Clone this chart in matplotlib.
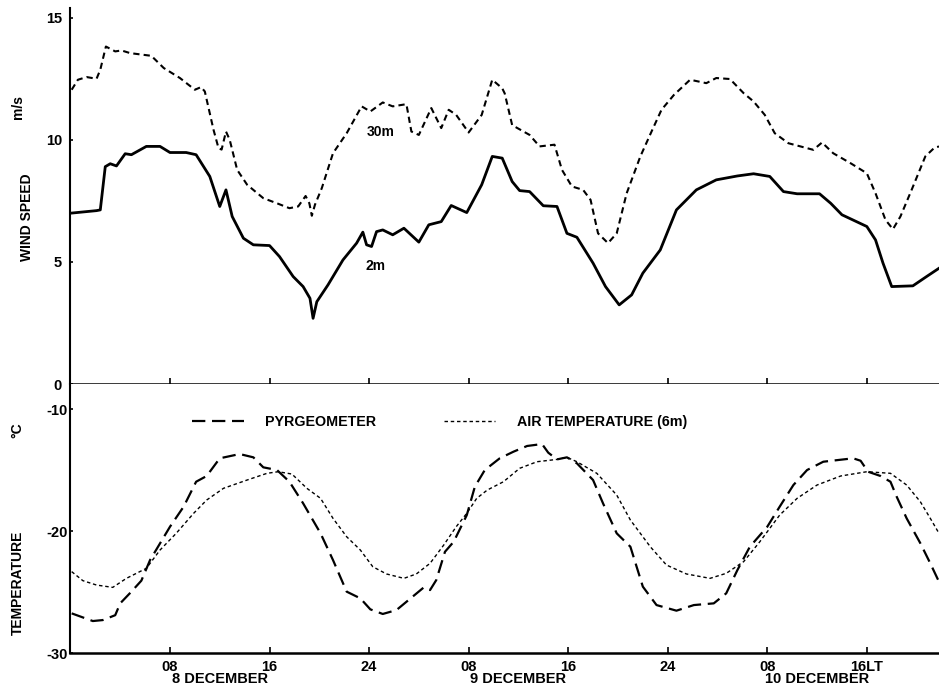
import matplotlib
matplotlib.use("Agg")
import matplotlib.pyplot as plt

plt.rcParams['font.family'] = ['Liberation Sans', 'DejaVu Sans']
plt.rcParams['font.weight'] = 'bold'
plt.rcParams['axes.unicode_minus'] = False

# hours since 8 December 00 LT, wind speed in m/s
hour_30m = [0.1, 0.6, 1.3, 2.1, 2.4, 2.85, 3.6, 4.1, 4.8, 6.5, 7.5, 8.8, 10.0, 10.5, 10.8,
            11.5, 11.9, 12.15, 12.5, 12.8, 13.4, 14.2, 15.5, 16.6, 17.6, 18.3, 18.9, 19.2,
            19.4, 19.65, 20.2, 21.1, 22.2, 23.4, 24.1, 25.1, 25.9, 27.0, 27.4, 28.0, 29.0,
            29.8, 30.4, 31.0, 32.0, 33.05, 33.9, 34.7, 34.9, 35.5, 36.9, 37.7, 38.9, 39.5,
            40.3, 41.2, 41.8, 42.4, 43.2, 43.9, 44.7, 45.8, 46.7, 47.5, 48.5, 49.8, 51.1,
            51.9, 53.0, 54.1, 54.9, 55.8, 56.6, 57.7, 59.7, 60.4, 61.3, 62.7, 64.0, 64.7,
            65.5, 66.1, 66.7, 67.6, 68.7, 69.4, 69.8]
wind_30m = [12.05, 12.46, 12.57, 12.5, 12.87, 13.82, 13.62, 13.66, 13.55, 13.44, 12.94, 12.53,
            12.05, 12.16, 11.98, 10.41, 9.66, 9.6, 10.34, 10.0, 8.77, 8.16, 7.61, 7.4, 7.2,
            7.27, 7.7, 7.4, 6.89, 7.34, 8.02, 9.45, 10.27, 11.37, 11.16, 11.53, 11.37, 11.46,
            10.34, 10.2, 11.3, 10.48, 11.23, 11.02, 10.3, 11.02, 12.46, 12.11, 11.9, 10.6,
            10.2, 9.73, 9.8, 8.77, 8.09, 7.95, 7.54, 6.17, 5.77, 6.17, 7.81, 9.32, 10.34,
            11.23, 11.84, 12.46, 12.32, 12.53, 12.49, 11.91, 11.57, 11.02, 10.27, 9.86, 9.59,
            9.89, 9.45, 9.04, 8.63, 7.81, 6.72, 6.34, 6.86, 7.95, 9.32, 9.66, 9.73]

hour_2m = [0.1, 2.1, 2.4, 2.8, 3.2, 3.7, 4.4, 4.9, 6.1, 7.2, 8.0, 9.3, 10.1, 11.2, 12.0, 12.5,
           13.0, 13.9, 14.7, 16.0, 16.8, 17.9, 18.7, 19.25, 19.5, 19.8, 20.7, 21.9, 23.0, 23.5,
           23.8, 24.2, 24.6, 25.1, 25.9, 26.8, 28.0, 28.8, 29.8, 30.6, 31.85, 33.05, 33.9,
           34.7, 35.5, 36.1, 36.9, 38.0, 39.1, 39.9, 40.7, 42.0, 43.0, 44.1, 45.1, 46.0, 47.4,
           48.7, 50.3, 51.9, 53.6, 54.9, 56.2, 57.3, 58.4, 60.2, 61.1, 62.0, 64.0, 64.7, 65.3,
           66.0, 67.7, 68.8, 69.8]
wind_2m = [7.0, 7.1, 7.13, 8.9, 9.02, 8.93, 9.43, 9.39, 9.73, 9.73, 9.48, 9.48, 9.39, 8.5,
           7.27, 7.95, 6.86, 5.97, 5.7, 5.67, 5.22, 4.4, 3.99, 3.51, 2.69, 3.37, 4.06, 5.08,
           5.77, 6.22, 5.7, 5.63, 6.24, 6.31, 6.11, 6.38, 5.81, 6.52, 6.65, 7.31, 7.02, 8.16,
           9.32, 9.25, 8.29, 7.92, 7.88, 7.3, 7.27, 6.17, 6.01, 4.95, 3.99, 3.24, 3.65, 4.54,
           5.49, 7.13, 7.95, 8.36, 8.52, 8.61, 8.5, 7.88, 7.79, 7.79, 7.4, 6.93, 6.45, 5.9,
           4.95, 3.99, 4.02, 4.4, 4.74]

# temperature, deg C
hour_pyr = [0.1, 1.8, 2.6, 3.6, 4.0, 4.9, 5.7, 6.4, 8.0, 9.1, 10.1, 10.95, 12.0, 13.6, 14.7,
            15.5, 16.6, 17.6, 18.7, 20.1, 21.1, 22.2, 23.3, 24.1, 25.1, 26.2, 28.4, 28.9, 29.4,
            30.1, 30.8, 31.85, 32.5, 33.3, 34.5, 35.6, 36.7, 37.9, 38.4, 39.1, 39.9, 40.7,
            42.0, 42.8, 43.9, 45.0, 46.0, 47.1, 48.7, 50.1, 51.7, 52.7, 53.6, 54.6, 56.0,
            57.0, 58.1, 59.2, 60.5, 62.9, 63.5, 64.1, 65.1, 65.9, 66.4, 67.2, 68.3, 69.1, 69.8]
temp_pyr = [-26.75, -27.38, -27.3, -26.9, -25.93, -24.97, -24.07, -22.38, -19.65, -18.0,
            -15.96, -15.49, -14.04, -13.69, -13.96, -14.78, -15.0, -15.96, -17.73, -20.19,
            -22.38, -24.97, -25.52, -26.42, -26.8, -26.48, -24.62, -24.84, -24.02, -21.7,
            -20.88, -18.7, -16.37, -15.0, -14.04, -13.5, -13.03, -12.87, -13.58, -14.13,
            -13.96, -14.45, -15.82, -17.73, -20.19, -21.29, -24.56, -26.07, -26.53, -26.07,
            -25.93, -25.11, -23.2, -21.29, -19.65, -18.0, -16.23, -15.0, -14.32, -14.04,
            -14.24, -15.14, -15.49, -15.96, -17.19, -18.96, -21.0, -22.65, -24.16]

hour_air = [0.1, 1.0, 2.1, 3.4, 4.5, 6.1, 7.2, 8.5, 9.9, 10.95, 12.3, 14.2, 15.8, 16.7, 17.8,
            19.0, 20.1, 21.1, 22.2, 23.3, 24.3, 25.4, 26.8, 27.8, 28.9, 30.0, 31.0, 31.85,
            32.65, 33.5, 34.8, 36.1, 37.5, 39.1, 39.9, 40.7, 42.3, 43.9, 45.0, 46.6, 47.9,
            49.5, 51.4, 52.7, 54.1, 55.4, 57.0, 58.4, 60.0, 61.9, 64.0, 65.9, 67.2, 68.3,
            69.1, 69.8]
temp_air = [-23.33, -24.07, -24.43, -24.62, -23.88, -23.06, -21.56, -20.19, -18.55, -17.46,
            -16.5, -15.82, -15.27, -15.14, -15.33, -16.5, -17.32, -18.96, -20.47, -21.56,
            -22.93, -23.52, -23.88, -23.52, -22.65, -21.15, -19.65, -18.55, -17.32, -16.64,
            -15.96, -14.86, -14.32, -14.13, -13.96, -14.32, -15.27, -17.05, -19.1, -21.29,
            -22.79, -23.52, -23.88, -23.47, -22.51, -20.88, -18.69, -17.32, -16.23, -15.49,
            -15.14, -15.27, -16.23, -17.6, -18.96, -20.19]

tick_hours = [8, 16, 24, 32, 40, 48, 56, 64]
tick_labels = ["08", "16", "24", "08", "16", "24", "08", "16LT"]
day_hours = [12, 36, 60]
day_labels = ["8 DECEMBER", "9 DECEMBER", "10 DECEMBER"]

fig = plt.figure(figsize=(9.39, 6.85), dpi=100)
ax1 = fig.add_axes([0.075, 0.4394, 0.925, 0.549])
ax2 = fig.add_axes([0.075, 0.0467, 0.925, 0.3927], sharex=ax1)

ax1.plot(hour_30m, wind_30m, color='black', lw=1.5, ls=(0, (3, 2)))
ax1.plot(hour_2m, wind_2m, color='black', lw=2)
ax1.text(24.9, 10.3, "30m", fontsize=10, fontweight='bold', ha='center', va='center')
ax1.text(24.5, 4.85, "2m", fontsize=10, fontweight='bold', ha='center', va='center')
ax1.set_ylim(0, 15.4)
ax1.set_yticks([0, 5, 10, 15])

pyr, = ax2.plot(hour_pyr, temp_pyr, color='black', lw=1.6, ls=(0, (6, 3)), label="PYRGEOMETER")
air, = ax2.plot(hour_air, temp_air, color='black', lw=1.0, ls=(0, (2.5, 2)),
                label="AIR TEMPERATURE (6m)")
ax2.set_ylim(-30, -7.95)
ax2.set_yticks([-10, -20, -30])
ax2.legend(handles=[pyr, air], ncol=2, loc='center', bbox_to_anchor=(0.425, 0.86),
           frameon=False, handlelength=3.6, handletextpad=1.5, columnspacing=4.7,
           prop={'size': 10.3, 'weight': 'bold'})

ax1.set_xlim(0, 69.8)
for ax in (ax1, ax2):
    for s in ('top', 'right'):
        ax.spines[s].set_visible(False)
    ax.spines['left'].set_linewidth(1.5)
    ax.spines['bottom'].set_linewidth(1.8)
    ax.set_xticks(tick_hours)
    ax.tick_params(axis='both', direction='in', length=4, width=1.2, labelsize=10.5)
    ax.tick_params(axis='y', length=2, pad=6)
ax2.tick_params(axis='y', pad=2)
ax1.tick_params(axis='x', labelbottom=False)
ax2.set_xticklabels(tick_labels, fontweight='bold')
ax2.tick_params(axis='x', pad=5)
ax2.set_xticks(day_hours, minor=True)
ax2.set_xticklabels(day_labels, minor=True, fontweight='bold')
ax2.tick_params(axis='x', which='minor', length=0, pad=14, labelsize=10.5)
for lab in ax1.get_yticklabels() + ax2.get_yticklabels():
    lab.set_fontweight('bold')

fig.text(0.029, 0.683, "WIND SPEED", rotation=90, ha='center', va='center', fontsize=10, fontweight='bold')
fig.text(0.019, 0.844, "m/s", rotation=90, ha='center', va='center', fontsize=10, fontweight='bold')
fig.text(0.019, 0.149, "TEMPERATURE", rotation=90, ha='center', va='center', fontsize=10, fontweight='bold')
fig.text(0.019, 0.372, "°C", rotation=90, ha='center', va='center', fontsize=10, fontweight='bold')

fig.savefig("out.png", dpi=100)
